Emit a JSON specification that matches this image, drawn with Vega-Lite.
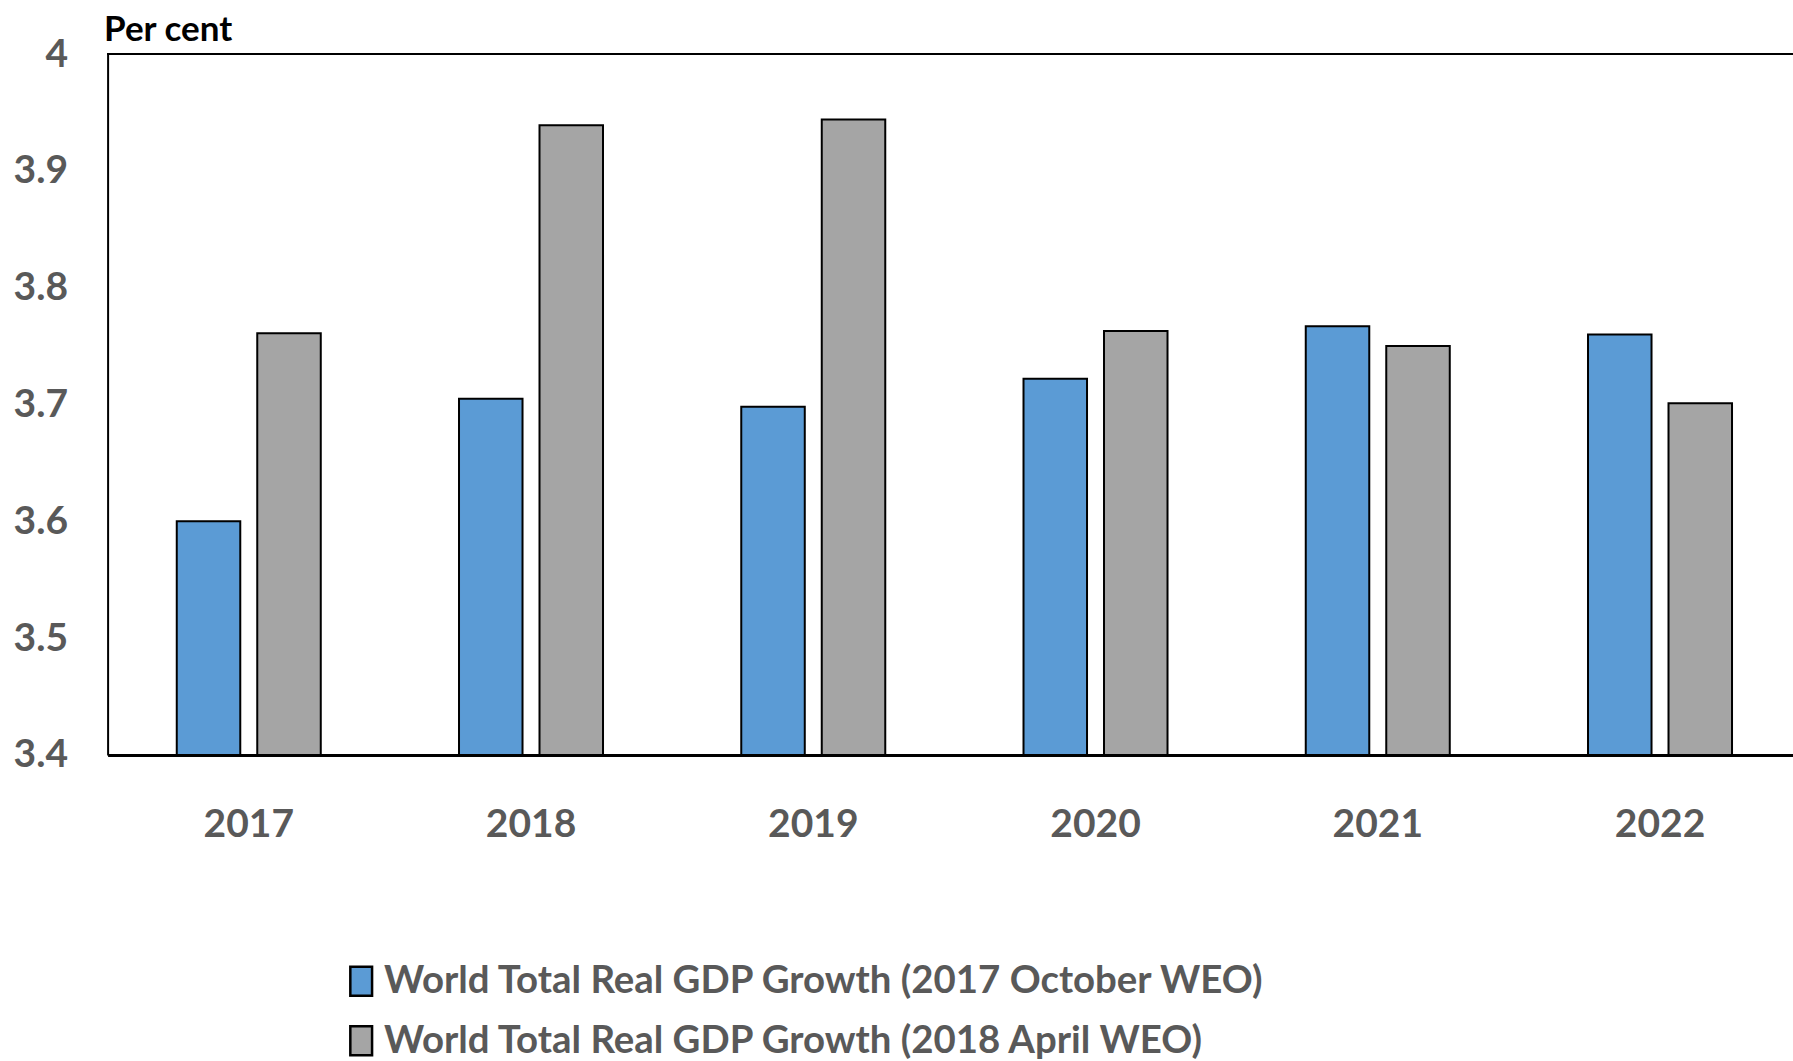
{
  "$schema": "https://vega.github.io/schema/vega-lite/v6.json",
  "width": 1686,
  "height": 701,
  "autosize": {"type": "none"},
  "padding": {"left": 107.6, "top": 54, "right": 0, "bottom": 306},
  "background": "white",
  "config": {
    "view": {"stroke": null},
    "font": "Lato, sans-serif"
  },
  "data": {
    "values": [
      {"year": "2017", "series": "World Total Real GDP Growth (2017 October WEO)", "value": 3.60},
      {"year": "2017", "series": "World Total Real GDP Growth (2018 April WEO)", "value": 3.761},
      {"year": "2018", "series": "World Total Real GDP Growth (2017 October WEO)", "value": 3.705},
      {"year": "2018", "series": "World Total Real GDP Growth (2018 April WEO)", "value": 3.939},
      {"year": "2019", "series": "World Total Real GDP Growth (2017 October WEO)", "value": 3.698},
      {"year": "2019", "series": "World Total Real GDP Growth (2018 April WEO)", "value": 3.944},
      {"year": "2020", "series": "World Total Real GDP Growth (2017 October WEO)", "value": 3.722},
      {"year": "2020", "series": "World Total Real GDP Growth (2018 April WEO)", "value": 3.763},
      {"year": "2021", "series": "World Total Real GDP Growth (2017 October WEO)", "value": 3.767},
      {"year": "2021", "series": "World Total Real GDP Growth (2018 April WEO)", "value": 3.750},
      {"year": "2022", "series": "World Total Real GDP Growth (2017 October WEO)", "value": 3.760},
      {"year": "2022", "series": "World Total Real GDP Growth (2018 April WEO)", "value": 3.701}
    ]
  },
  "layer": [
    {
      "mark": {"type": "bar", "stroke": "black", "strokeWidth": 2, "clip": true},
      "encoding": {
        "x": {
          "field": "year",
          "type": "nominal",
          "sort": null,
          "scale": {"paddingInner": 0.4898, "paddingOuter": 0.2316, "align": 0.529},
          "axis": {
            "title": null,
            "labelAngle": 0,
            "labelFontSize": 39,
            "labelFontWeight": "bold",
            "labelColor": "#595959",
            "labelPadding": 51,
            "ticks": false,
            "domainColor": "black",
            "domainWidth": 3
          }
        },
        "xOffset": {
          "field": "series",
          "sort": ["World Total Real GDP Growth (2017 October WEO)", "World Total Real GDP Growth (2018 April WEO)"],
          "scale": {"paddingInner": 0.211, "paddingOuter": 0}
        },
        "y": {
          "field": "value",
          "type": "quantitative",
          "scale": {"domain": [3.4, 4.0], "zero": false, "nice": false},
          "axis": {
            "values": [3.4, 3.5, 3.6, 3.7, 3.8, 3.9, 4.0],
            "format": ".2~f",
            "grid": false,
            "ticks": false,
            "labelFontSize": 39,
            "labelFontWeight": "bold",
            "labelColor": "#595959",
            "labelPadding": 40,
            "domainColor": "black",
            "domainWidth": 2,
            "title": "Per cent",
            "titleAngle": 0,
            "titleAlign": "left",
            "titleBaseline": "alphabetic",
            "titleX": -4,
            "titleY": -14,
            "titleFontSize": 35,
            "titleFontWeight": "bold",
            "titleColor": "black"
          }
        },
        "y2": {"datum": 3.4},
        "color": {
          "field": "series",
          "type": "nominal",
          "scale": {
            "domain": ["World Total Real GDP Growth (2017 October WEO)", "World Total Real GDP Growth (2018 April WEO)"],
            "range": ["#5B9BD5", "#A5A5A5"]
          },
          "legend": {
            "title": null,
            "orient": "none",
            "legendX": 234.4,
            "legendY": 908,
            "direction": "vertical",
            "symbolType": "M-0.75,-1H0.75V1H-0.75Z",
            "symbolSize": 841,
            "symbolStrokeColor": "black",
            "symbolStrokeWidth": 2.5,
            "symbolOpacity": 1,
            "labelFontSize": 38.4,
            "labelFontWeight": "bold",
            "labelColor": "#595959",
            "labelOffset": 3.5,
            "labelLimit": 2000,
            "rowPadding": 19.5
          }
        }
      }
    },
    {
      "mark": {"type": "rule", "stroke": "black", "strokeWidth": 2},
      "encoding": {"y": {"datum": 4.0}}
    }
  ]
}
